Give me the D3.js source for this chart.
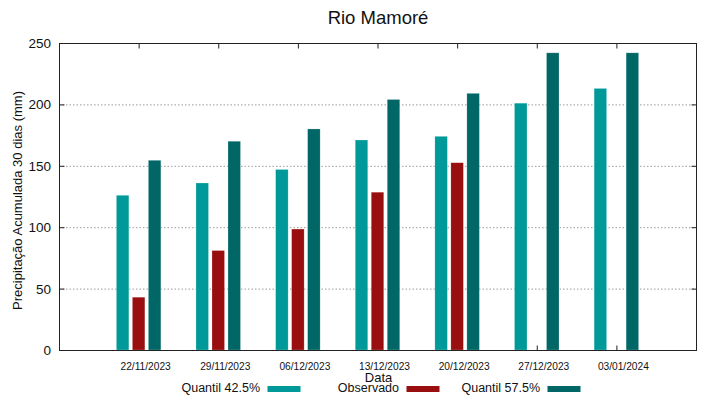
<!DOCTYPE html>
<html>
<head>
<meta charset="utf-8">
<script src="https://cdn.jsdelivr.net/npm/d3@7"></script>
<style>
  body { margin: 0; background: #fff; }
  text { font-family: "Liberation Sans", Arial, sans-serif; fill: #111; }
</style>
</head>
<body>
<div id="chart"></div>
<script>
// chart values
var datas = ["22/11/2023", "29/11/2023", "06/12/2023", "13/12/2023", "20/12/2023", "27/12/2023", "03/01/2024"];
var quantil425 = [126, 136, 147, 171, 174, 201, 213];
var observado = [43, 81, 98.5, 128.5, 152.5, null, null];
var quantil575 = [154.5, 170, 180, 204, 209, 242, 242];
var yTicks = [0, 50, 100, 150, 200, 250];

var series = [
  {name: "Quantil 42.5%", values: quantil425, color: "#009999"},
  {name: "Observado", values: observado, color: "#990e0e"},
  {name: "Quantil 57.5%", values: quantil575, color: "#006666"}
];

var width = 719, height = 399;
var margin = {top: 43, right: 23, bottom: 49, left: 59};

var svg = d3.select("#chart").append("svg")
  .attr("width", width)
  .attr("height", height);

var x = d3.scalePoint()
  .domain(datas)
  .range([margin.left, width - margin.right])
  .padding(1);

var y = d3.scaleLinear()
  .domain([0, 250])
  .range([height - margin.bottom, margin.top]);

var barW = 12.5, barStep = 16;

// grid
svg.append("g")
  .selectAll("line")
  .data(yTicks.filter(function(d) { return d > 0 && d < 250; }))
  .enter().append("line")
    .attr("x1", margin.left)
    .attr("x2", width - margin.right)
    .attr("y1", function(d) { return y(d) + 0.5; })
    .attr("y2", function(d) { return y(d) + 0.5; })
    .attr("stroke", "#9a9a9a")
    .attr("stroke-width", 1)
    .attr("stroke-dasharray", "1.5,2");

// x ticks inward top and bottom (drawn before bars, which hide them)
var xAxisB = svg.append("g")
  .attr("transform", "translate(0," + (height - margin.bottom + 0.5) + ")")
  .call(d3.axisTop(x).tickSize(5).tickFormat(""));
var xAxisT = svg.append("g")
  .attr("transform", "translate(0," + (margin.top + 0.5) + ")")
  .call(d3.axisBottom(x).tickSize(5).tickFormat(""));
[xAxisB, xAxisT].forEach(function(g) {
  g.select(".domain").remove();
  g.selectAll("line").attr("stroke", "#222");
});

// bars
series.forEach(function(s, i) {
  svg.append("g")
    .attr("fill", s.color)
    .selectAll("rect")
    .data(s.values.map(function(v, j) { return {cat: datas[j], v: v}; }).filter(function(d) { return d.v != null; }))
    .enter().append("rect")
      .attr("x", function(d) { return x(d.cat) + (i - 1) * barStep - barW / 2; })
      .attr("y", function(d) { return y(d.v); })
      .attr("width", barW)
      .attr("height", function(d) { return y(0) - y(d.v); })
      .attr("stroke", "rgba(255,255,255,0.35)")
      .attr("stroke-width", 0.6);
});

// frame
svg.append("rect")
  .attr("x", margin.left + 0.5)
  .attr("y", margin.top + 0.5)
  .attr("width", width - margin.left - margin.right)
  .attr("height", height - margin.top - margin.bottom)
  .attr("fill", "none")
  .attr("stroke", "#222")
  .attr("stroke-width", 1);

// y axis, ticks inward on both sides
var yAxisL = svg.append("g")
  .attr("transform", "translate(" + (margin.left + 0.5) + ",0)")
  .call(d3.axisRight(y).tickValues(yTicks).tickSize(5).tickFormat(""));
var yAxisR = svg.append("g")
  .attr("transform", "translate(" + (width - margin.right + 0.5) + ",0)")
  .call(d3.axisLeft(y).tickValues(yTicks).tickSize(5).tickFormat(""));
[yAxisL, yAxisR].forEach(function(g) {
  g.select(".domain").remove();
  g.selectAll("line").attr("stroke", "#222");
});

svg.append("g")
  .selectAll("text")
  .data(yTicks)
  .enter().append("text")
    .attr("x", margin.left - 8)
    .attr("y", function(d) { return y(d) + 5; })
    .attr("text-anchor", "end")
    .style("font-size", "13.5px")
    .text(function(d) { return d; });

function label(sel, px, py, size, anchor, str) {
  return sel.append("text")
    .attr("x", px)
    .attr("y", py)
    .attr("text-anchor", anchor)
    .style("font-size", size + "px")
    .text(str);
}

var xLabels = svg.append("g");
datas.forEach(function(d) {
  label(xLabels, x(d) + 7, 370, 10.2, "middle", d);
});

label(svg, (margin.left + width - margin.right) / 2 + 1, 382, 13, "middle", "Data");

label(svg, 378, 24, 18.5, "middle", "Rio Mamoré");

svg.append("text")
  .attr("transform", "translate(22," + ((margin.top + height - margin.bottom) / 2 + 4) + ") rotate(-90)")
  .attr("text-anchor", "middle")
  .style("font-size", "13px")
  .text("Precipitação Acumulada 30 dias (mm)");

// legend
var legendX = [260, 399, 540];
var legend = svg.append("g");
series.forEach(function(s, i) {
  label(legend, legendX[i], 392, 12.5, "end", s.name);
  legend.append("rect")
    .attr("x", legendX[i] + 7.5)
    .attr("y", 386)
    .attr("width", 33)
    .attr("height", 6)
    .attr("fill", s.color);
});
</script>
</body>
</html>
